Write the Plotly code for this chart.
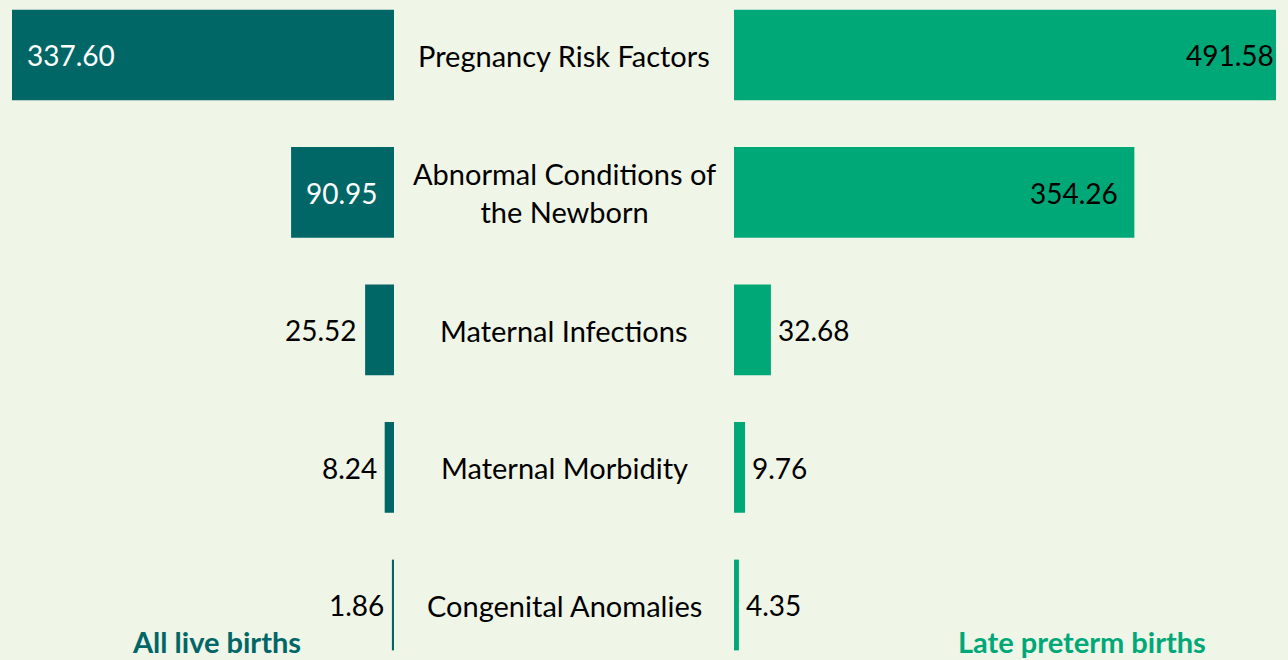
import plotly.graph_objects as go

categories = ["Pregnancy Risk Factors", "Abnormal Conditions of<br>the Newborn",
              "Maternal Infections", "Maternal Morbidity", "Congenital Anomalies"]
all_live = [337.60, 90.95, 25.52, 8.24, 1.86]
late_preterm = [491.58, 354.26, 32.68, 9.76, 4.35]
series_names = ["All live births", "Late preterm births"]

W, H = 1288, 660
LEFT_COLOR = "#006666"
RIGHT_COLOR = "#00A878"
BG = "#EFF5E7"
FONT = "Lato, Carlito, Calibri, sans-serif"
NUM_SIZE = 28
CAT_SIZE = 29

left_max = 348.2
right_max = 479.6
inside_min = 60

fig = go.Figure()
fig.add_trace(go.Bar(y=list(range(len(categories))), x=all_live, orientation="h",
                     marker=dict(color=LEFT_COLOR, line=dict(width=0)),
                     width=0.66, xaxis="x", yaxis="y", hoverinfo="skip", name=series_names[0]))
fig.add_trace(go.Bar(y=list(range(len(categories))), x=late_preterm, orientation="h",
                     marker=dict(color=RIGHT_COLOR, line=dict(width=0)),
                     width=0.66, xaxis="x2", yaxis="y", hoverinfo="skip", name=series_names[1]))

ann = []
for i, v in enumerate(all_live):
    if v >= inside_min:
        ann.append(dict(x=v, y=i, xref="x", yref="y", text=f"{v:.2f}", showarrow=False,
                        xanchor="left", yanchor="middle", xshift=13,
                        font=dict(family=FONT, size=NUM_SIZE, color="white")))
    else:
        ann.append(dict(x=v, y=i, xref="x", yref="y", text=f"{v:.2f}", showarrow=False,
                        xanchor="right", yanchor="middle", xshift=-6,
                        font=dict(family=FONT, size=NUM_SIZE, color="black")))
for i, v in enumerate(late_preterm):
    if v >= inside_min:
        xe = min(v, right_max)
        ann.append(dict(x=xe, y=i, xref="x2", yref="y", text=f"{v:.2f}", showarrow=False,
                        xanchor="right", yanchor="middle", xshift=-14 if v <= right_max else 0,
                        font=dict(family=FONT, size=NUM_SIZE, color="black")))
    else:
        ann.append(dict(x=v, y=i, xref="x2", yref="y", text=f"{v:.2f}", showarrow=False,
                        xanchor="left", yanchor="middle", xshift=5,
                        font=dict(family=FONT, size=NUM_SIZE, color="black")))
for i, c in enumerate(categories):
    ann.append(dict(x=564 / W, y=i, xref="paper", yref="y", text=c, showarrow=False,
                    xanchor="center", yanchor="middle", align="center",
                    font=dict(family=FONT, size=CAT_SIZE, color="black")))
ann.append(dict(x=216 / W, y=1 - 641 / H, xref="paper", yref="paper", text=f"<b>{series_names[0]}</b>",
                showarrow=False, xanchor="center", yanchor="middle",
                font=dict(family=FONT, size=CAT_SIZE, color=LEFT_COLOR)))
ann.append(dict(x=1082 / W, y=1 - 641 / H, xref="paper", yref="paper", text=f"<b>{series_names[1]}</b>",
                showarrow=False, xanchor="center", yanchor="middle",
                font=dict(family=FONT, size=CAT_SIZE, color=RIGHT_COLOR)))

fig.update_layout(
    width=W, height=H, margin=dict(l=0, r=0, t=0, b=0),
    paper_bgcolor=BG, plot_bgcolor=BG, showlegend=False, barmode="overlay",
    xaxis=dict(domain=[0, 394 / W], range=[left_max, 0], visible=False, fixedrange=True),
    xaxis2=dict(domain=[734 / W, 1276 / W], range=[0, right_max], visible=False, fixedrange=True),
    yaxis=dict(range=[4.4, -0.4], visible=False, fixedrange=True),
    annotations=ann,
)
fig.write_html("out.html", config={"displayModeBar": False},
               post_script="document.body.style.margin='0';document.body.style.overflow='hidden';")
